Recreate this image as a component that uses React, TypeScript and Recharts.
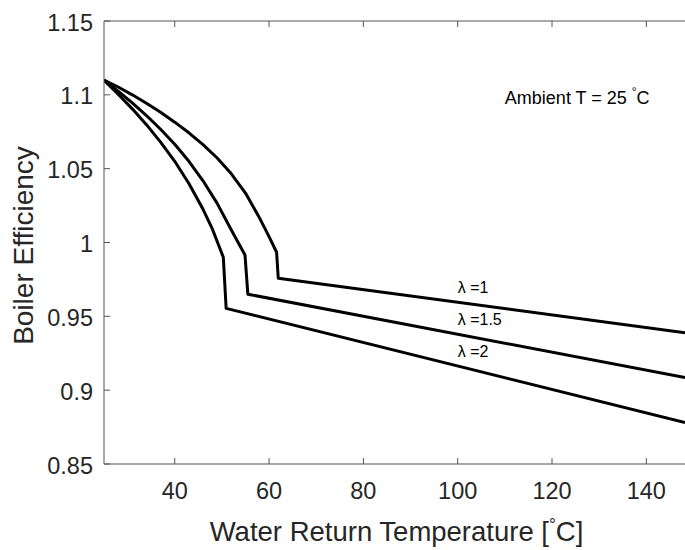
import { LineChart, Line, XAxis, YAxis, ReferenceDot } from "recharts";

// readings from the reference picture
const lambda1Temp = [25, 28, 31, 34, 37, 40, 43, 46, 49, 52, 55, 58, 60, 61.6, 61.95, 148.2];
const lambda1Eff = [1.11, 1.1053, 1.1, 1.0943, 1.0882, 1.0815, 1.0743, 1.0663, 1.0572, 1.0465, 1.0335, 1.0165, 1.004, 0.9934, 0.9758, 0.9389];

const lambda15Temp = [25, 28, 31, 34, 37, 40, 43, 46, 49, 52, 54.9, 55.5, 148.2];
const lambda15Eff = [1.11, 1.1025, 1.0945, 1.086, 1.0767, 1.0665, 1.055, 1.0418, 1.0265, 1.0085, 0.9915, 0.965, 0.9085];

const lambda2Temp = [25, 28, 31, 34, 37, 40, 43, 46, 48, 50.3, 50.9, 148.2];
const lambda2Eff = [1.11, 1.1005, 1.0905, 1.0798, 1.068, 1.055, 1.04, 1.0225, 1.009, 0.99, 0.9554, 0.878];

const xTicks = [40, 60, 80, 100, 120, 140];
const yTicks = [0.85, 0.9, 0.95, 1, 1.05, 1.1, 1.15];

const noteTemps = [100, 100, 100];
const noteEffs = [0.9658, 0.9441, 0.9225];
const noteLabels = ["λ =1", "λ =1.5", "λ =2"];

const ambientTemp = 110;
const ambientEff = 1.0938;

const toRows = (temps: number[], effs: number[]) =>
  temps.map((t, i) => ({ t, eff: effs[i] }));

const series = [
  { name: "lambda1", rows: toRows(lambda1Temp, lambda1Eff) },
  { name: "lambda15", rows: toRows(lambda15Temp, lambda15Eff) },
  { name: "lambda2", rows: toRows(lambda2Temp, lambda2Eff) },
];

const AXIS = "#555555";
const TEXT = "#262626";
const FONT = "'Liberation Sans', Arial, Helvetica, sans-serif";

function BottomTick(props: any) {
  const { x, y, payload } = props;
  return (
    <g>
      <line x1={x} y1={y} x2={x} y2={y - 6} stroke={AXIS} />
      <text x={x} y={y + 35} textAnchor="middle" fontSize={23.5} fill={TEXT} fontFamily={FONT}>
        {payload.value}
      </text>
    </g>
  );
}

function TopTick(props: any) {
  const { x, y } = props;
  return <line x1={x} y1={y} x2={x} y2={y + 6} stroke={AXIS} />;
}

function LeftTick(props: any) {
  const { x, y, payload } = props;
  return (
    <g>
      <line x1={x} y1={y} x2={x + 6} y2={y} stroke={AXIS} />
      <text x={x - 11} y={y + 9.5} textAnchor="end" fontSize={23.5} fill={TEXT} fontFamily={FONT}>
        {String(payload.value)}
      </text>
    </g>
  );
}

function XTitle(props: any) {
  const vb = props.viewBox || { x: 104, y: 464, width: 581, height: 86 };
  return (
    <text x={vb.x + vb.width / 2 + 2} y={vb.y + 77} textAnchor="middle" fontSize={27.5} fill={TEXT} fontFamily={FONT}>
      {"Water Return Temperature ["}
      <tspan fontSize={17} dy={-11}>°</tspan>
      <tspan dy={11}>C]</tspan>
    </text>
  );
}

function YTitle(props: any) {
  const vb = props.viewBox || { x: 0, y: 21, width: 104, height: 443 };
  const cx = 33;
  const cy = vb.y + vb.height / 2 + 3;
  return (
    <text
      x={cx}
      y={cy}
      transform={`rotate(-90, ${cx}, ${cy})`}
      textAnchor="middle"
      fontSize={28}
      fill={TEXT}
      fontFamily={FONT}
    >
      Boiler Efficiency
    </text>
  );
}

export default function App() {
  return (
    <div style={{ position: "absolute", left: 0, top: 0, width: 685, height: 550, background: "#fff" }}>
      <LineChart width={685} height={550} margin={{ top: 0, right: 0, left: 0, bottom: 0 }}>
        <XAxis
          dataKey="t"
          type="number"
          domain={[25, 148.2]}
          allowDataOverflow
          ticks={xTicks}
          interval={0}
          height={86}
          tickSize={0}
          tickMargin={0}
          tickLine={false}
          axisLine={{ stroke: AXIS }}
          tick={<BottomTick />}
          label={XTitle}
        />
        <XAxis
          xAxisId="top"
          orientation="top"
          dataKey="t"
          type="number"
          domain={[25, 148.2]}
          allowDataOverflow
          ticks={xTicks}
          interval={0}
          height={21}
          tickSize={0}
          tickMargin={0}
          tickLine={false}
          axisLine={{ stroke: AXIS }}
          tick={<TopTick />}
        />
        <YAxis
          type="number"
          domain={[0.85, 1.15]}
          allowDataOverflow
          ticks={yTicks}
          interval={0}
          width={104}
          tickSize={0}
          tickMargin={0}
          tickLine={false}
          axisLine={{ stroke: AXIS }}
          tick={<LeftTick />}
          label={YTitle}
        />
        {series.map((s) => (
          <Line
            key={s.name}
            data={s.rows}
            dataKey="eff"
            type="linear"
            stroke="#000"
            strokeWidth={3}
            strokeLinejoin="round"
            dot={false}
            activeDot={false}
            isAnimationActive={false}
          />
        ))}
        {noteLabels.map((txt, i) => (
          <ReferenceDot
            key={txt}
            x={noteTemps[i]}
            y={noteEffs[i]}
            r={0}
            shape={(p: any) => (
              <text x={p.cx} y={p.cy} fontSize={16} fill="#000" fontFamily={FONT}>
                {txt}
              </text>
            )}
          />
        ))}
        <ReferenceDot
          x={ambientTemp}
          y={ambientEff}
          r={0}
          shape={(p: any) => (
            <text x={p.cx} y={p.cy} fontSize={18} fill="#000" fontFamily={FONT}>
              {"Ambient T = 25 "}
              <tspan fontSize={12} dy={-8}>°</tspan>
              <tspan dy={8}>C</tspan>
            </text>
          )}
        />
      </LineChart>
    </div>
  );
}
